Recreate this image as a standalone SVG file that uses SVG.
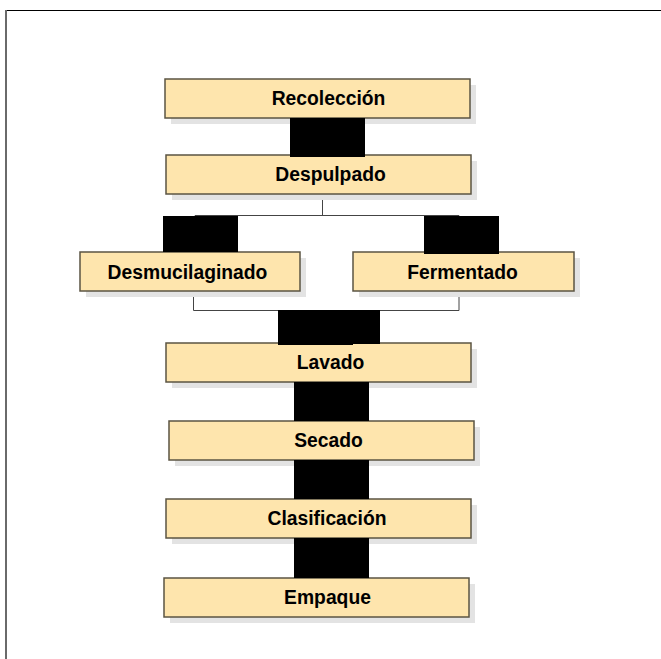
<svg xmlns="http://www.w3.org/2000/svg" width="661" height="659" viewBox="0 0 661 659">
<style>
.shadow{fill:#e3e3e3}
.box{fill:#fee5ad;stroke:#5b5443;stroke-width:1.5}
.lbl{font-family:"Liberation Sans",Arial,sans-serif;font-weight:bold;font-size:21px;fill:#000;text-anchor:middle}
.blk{fill:#000}
.conn{fill:none;stroke:#444;stroke-width:1}
</style>
<rect width="661" height="659" fill="#fff"/>
<line x1="5" y1="10.5" x2="661" y2="10.5" stroke="#000" stroke-width="1"/>
<line x1="6" y1="10" x2="6" y2="659" stroke="#6a6a6a" stroke-width="2"/>
<g id="connectors">
<path class="conn" d="M322.5,194 V215.5 M195,252 V215.5 H459 V252"/>
<path class="conn" d="M193.5,291 V310.5 H459 V291 M329,310.5 V343"/>
</g>
<g id="n1"><rect class="shadow" x="171" y="85" width="305" height="39"/><rect class="box" x="165" y="79" width="305" height="39"/><text class="lbl" transform="translate(328.5,105) scale(0.92,1)">Recolección</text></g>
<g id="n2"><rect class="shadow" x="172" y="161" width="305" height="39"/><rect class="box" x="166" y="155" width="305" height="39"/><text class="lbl" transform="translate(330.5,181) scale(0.92,1)">Despulpado</text></g>
<g id="n3"><rect class="shadow" x="86" y="258" width="220" height="39"/><rect class="box" x="80" y="252" width="220" height="39"/><text class="lbl" transform="translate(187.5,279) scale(0.92,1)">Desmucilaginado</text></g>
<g id="n4"><rect class="shadow" x="359" y="258" width="221" height="39"/><rect class="box" x="353" y="252" width="221" height="39"/><text class="lbl" transform="translate(462.5,279) scale(0.92,1)">Fermentado</text></g>
<g id="n5"><rect class="shadow" x="172" y="349" width="305" height="39"/><rect class="box" x="166" y="343" width="305" height="39"/><text class="lbl" transform="translate(330.5,369) scale(0.92,1)">Lavado</text></g>
<g id="n6"><rect class="shadow" x="175" y="427" width="305" height="39"/><rect class="box" x="169" y="421" width="305" height="39"/><text class="lbl" transform="translate(328.5,447) scale(0.92,1)">Secado</text></g>
<g id="n7"><rect class="shadow" x="172" y="505" width="305" height="39"/><rect class="box" x="166" y="499" width="305" height="39"/><text class="lbl" transform="translate(327,525) scale(0.92,1)">Clasificación</text></g>
<g id="n8"><rect class="shadow" x="170" y="584" width="305" height="39"/><rect class="box" x="164" y="578" width="305" height="39"/><text class="lbl" transform="translate(327.5,604) scale(0.92,1)">Empaque</text></g>
<g id="blocks">
<rect class="blk" x="290" y="118" width="75" height="39"/>
<rect class="blk" x="163" y="216" width="75" height="36"/>
<rect class="blk" x="424" y="216" width="75" height="38"/>
<rect class="blk" x="278" y="310" width="102" height="34"/>
<rect class="blk" x="278" y="310" width="75" height="35"/>
<rect class="blk" x="294" y="382" width="75" height="39"/>
<rect class="blk" x="294" y="460" width="75" height="39"/>
<rect class="blk" x="294" y="538" width="75" height="40"/>
</g>
</svg>
